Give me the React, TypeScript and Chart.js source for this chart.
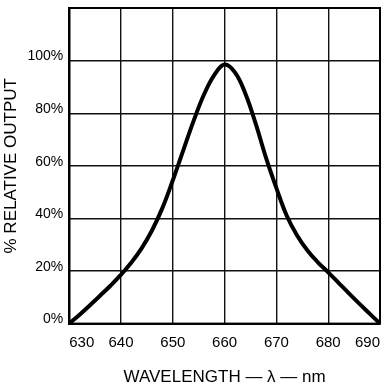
import React, { useEffect, useRef } from "react";
import { Chart, registerables } from "chart.js";

Chart.register(...registerables);

const wavelengths = [630, 632, 634, 636, 638, 640, 642, 644, 646, 648, 650, 652, 654, 656, 658, 660, 662, 664, 666, 668, 670, 672, 674, 676, 678, 680, 682, 684, 686, 688, 690];
const relativeOutput = [0, 3.4, 7, 10.7, 14.5, 18.6, 23.2, 28.7, 35.5, 44, 54.5, 65.8, 77, 87, 94.5, 98.5, 95.5, 87.5, 76, 63, 51.5, 41, 33.5, 27.8, 23.3, 19.5, 15.5, 11.5, 7.6, 3.8, 0];
const xTicks = [630, 640, 650, 660, 670, 680, 690];
const yTicks = [0, 20, 40, 60, 80, 100, 120];

const FONT = "'Liberation Sans', Arial, Helvetica, sans-serif";

export default function App() {
  const ref = useRef<HTMLCanvasElement | null>(null);
  useEffect(() => {
    if (!ref.current) return;
    const chart = new Chart(ref.current, {
      type: "line",
      data: {
        datasets: [
          {
            data: wavelengths.map((w, i) => ({ x: w, y: relativeOutput[i] })),
            borderColor: "#000",
            borderWidth: 4,
            pointRadius: 0,
            tension: 0.4,
            fill: false,
          },
        ],
      },
      options: {
        animation: false,
        responsive: false,
        maintainAspectRatio: false,
        layout: { padding: { top: 8, right: 7, bottom: -3, left: 1 } },
        plugins: { legend: { display: false }, tooltip: { enabled: false } },
        scales: {
          x: {
            type: "linear",
            min: xTicks[0],
            max: xTicks[xTicks.length - 1],
            afterBuildTicks: (axis: any) => {
              axis.ticks = xTicks.map((v) => ({ value: v }));
            },
            afterFit: (axis: any) => {
              axis.paddingLeft = 0;
              axis.paddingRight = 0;
            },
            ticks: {
              align: "inner",
              padding: 10,
              color: "#000",
              font: { family: FONT, size: 15 },
              callback: (v: any) => String(v),
            },
            grid: { color: "#111", lineWidth: 1.4, drawTicks: false },
            border: { color: "#000", width: 2 },
            title: {
              display: true,
              text: "WAVELENGTH — λ — nm",
              color: "#000",
              font: { family: FONT, size: 17 },
              padding: { top: 6, bottom: 0 },
            },
          },
          y: {
            type: "linear",
            min: yTicks[0],
            max: yTicks[yTicks.length - 1],
            afterBuildTicks: (axis: any) => {
              axis.ticks = yTicks.map((v) => ({ value: v }));
            },
            afterFit: (axis: any) => {
              axis.paddingTop = 0;
              axis.paddingBottom = 0;
            },
            ticks: {
              padding: 6,
              labelOffset: -4,
              color: "#000",
              font: { family: FONT, size: 14 },
              callback: (v: any) => (v === 120 ? "" : v + "%"),
            },
            grid: { color: "#111", lineWidth: 1.4, drawTicks: false },
            border: { color: "#000", width: 2 },
            title: {
              display: true,
              text: "% RELATIVE OUTPUT",
              color: "#000",
              font: { family: FONT, size: 17 },
              padding: { top: 0, bottom: 0 },
            },
          },
        },
      },
      plugins: [
        {
          id: "frame",
          afterDraw(c: any) {
            const { ctx, chartArea: a } = c;
            ctx.save();
            ctx.strokeStyle = "#000";
            ctx.lineWidth = 2;
            ctx.strokeRect(a.left, a.top, a.right - a.left, a.bottom - a.top);
            ctx.restore();
          },
        },
      ],
    });
    return () => chart.destroy();
  }, []);
  return (
    <div style={{ position: "fixed", left: 0, top: 0, width: 387, height: 385, background: "#fff" }}>
      <canvas ref={ref} width={387} height={385} style={{ display: "block" }} />
    </div>
  );
}
